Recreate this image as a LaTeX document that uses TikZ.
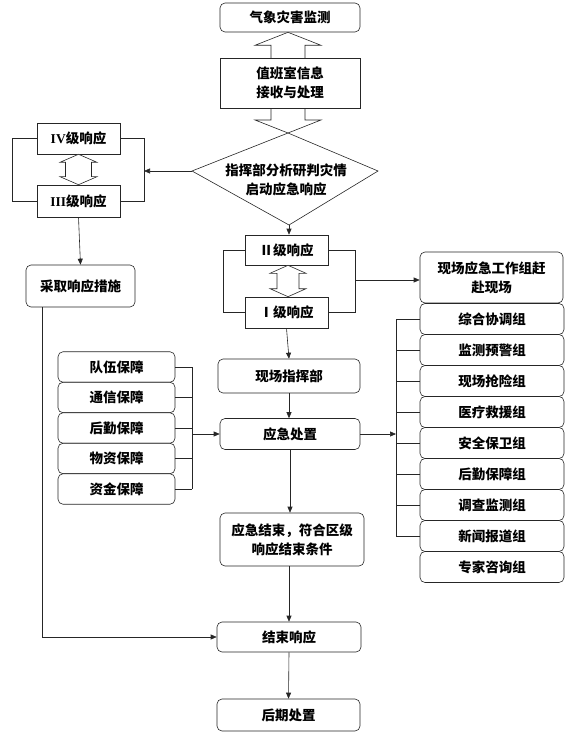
\documentclass[tikz,border=0pt]{standalone}
\usepackage{fontspec}
\setmainfont{Noto Sans CJK SC}
\newfontfamily\romfont{Liberation Serif}
\usepackage{tikz}
\usetikzlibrary{arrows.meta, positioning, calc}

\newcommand{\dblarr}[5]{%
  \draw[fill=white] (#1) -- ++(#3,#5) -- ++({#4-#3},0) -- ($(#2)+(#4,-#5)$) -- ++({#3-#4},0) -- (#2)
    -- ++(-#3,-#5) -- ++({#3-#4},0) -- ($(#1)+(-#4,#5)$) -- ++({#4-#3},0) -- cycle;}

\begin{document}
\begin{tikzpicture}[x=1pt, y=-1pt, line width=0.6pt, color=black!85,
  every node/.style={font=\fontsize{13.5}{19}\selectfont\bfseries, align=center, inner sep=1pt, text=black},
  box/.style={draw, fill=white, minimum width=#1, minimum height=31pt},
  box/.default=140pt,
  rbox/.style={box=#1, rounded corners=5pt},
  rbox/.default=140pt,
  arr/.style={-{Triangle[length=6pt, width=5pt]}}]
  \useasboundingbox (0,0) rectangle (578,743);

  \node[rbox, minimum height=29pt] (jc) at (290,17.5) {气象灾害监测};
  \coordinate (zhN) at (288,133);
  \coordinate (zhW) at (192,171);
  \coordinate (zhE) at (378,171);
  \coordinate (zhS) at (289,225);
  \dblarr{jc.south -| zhN}{zhN}{33}{17}{13}
  \node[box, minimum height=50pt] (zb) at (290,83) {值班室信息\\接收与处理};
  \draw (zhN) -- (zhE) -- (zhS) -- (zhW) -- cycle;
  \node (zh) at (286,180) {指挥部分析研判灾情\\启动应急响应};

  \node[box=83pt] (IV) at (78.5,138.5) {{\romfont IV}级响应};
  \node[box=83pt, minimum height=32pt] (III) at (78.5,201) {{\romfont III}级响应};
  \dblarr{IV.south}{III.north}{18.5}{13}{8}
  \draw (IV.west) -- ++(-24,0) |- (III.west);
  \draw (IV.east) -- ++(24,0) |- (III.east);
  \draw[arr] (zhW) -- (zhW -| 144,0);
  \node[rbox=109pt, minimum height=42pt] (cq) at (80.5,286) {采取响应措施};
  \draw[arr] (III.south) -- (cq.north);

  \node[box=83pt, minimum height=30pt] (II) at (286.5,250) {Ⅱ级响应};
  \node[box=83pt] (I) at (286.5,312.5) {Ⅰ级响应};
  \draw[arr] (zhS) -- (zhS |- II.north);
  \dblarr{II.south -| 288,0}{I.north -| 288,0}{18}{11}{8}
  \draw (II.west) -- ++(-21,0) |- (I.west);
  \draw (II.east) -- ++(27,0) coordinate (br) |- (I.east);
  \node[rbox=143pt, minimum height=51pt] (xc) at (491.5,277.5) {现场应急工作组赶\\赴现场};
  \draw[arr] (br |- 0,280) -- (xc.west |- 0,280);

  \node[rbox=142pt, minimum height=34pt] (zhb) at (289,376) {现场指挥部};
  \node[rbox] (yjcz) at (290,434) {应急处置};
  \draw[arr] (I.south) -- (zhb.north);
  \draw[arr] (zhb.south) -- (zhb.south |- yjcz.north);

  \foreach \t [count=\i] in {队伍保障, 通信保障, 后勤保障, 物资保障, 资金保障}
    \node[rbox=117pt, minimum height=30.5pt] (g\i) at (116.5,{336.5+30.5*\i}) {\t};
  \coordinate (gx) at (192,0);
  \foreach \i in {1,...,5}
    \draw (g\i.east) -- (g\i.east -| gx);
  \draw (g1.east -| gx) -- (g5.east -| gx);
  \draw[arr] (gx |- yjcz.west) -- (yjcz.west);

  \foreach \t [count=\i] in {综合协调组, 监测预警组, 现场抢险组, 医疗救援组, 安全保卫组, 后勤保障组, 调查监测组, 新闻报道组, 专家咨询组}
    \node[rbox=144pt] (r\i) at (492,{288+31*\i}) {\t};
  \coordinate (rx) at (396,0);
  \foreach \i in {1,...,8}
    \draw (r\i.west) -- (r\i.west -| rx);
  \draw (r1.west -| rx) -- (r8.west -| rx);
  \draw[arr] (yjcz.east) -- (yjcz.east -| rx);

  \node[rbox=144pt, minimum height=53pt] (yjjs) at (292,539.5) {应急结束，符合区级\\响应结束条件};
  \node[rbox=144pt, minimum height=30pt] (jsxy) at (289,637) {结束响应};
  \node[rbox=143pt, minimum height=32pt] (hqcz) at (288.5,715) {后期处置};
  \draw[arr] (yjcz.south) -- (yjcz.south |- yjjs.north);
  \draw[arr] (yjjs.south -| jsxy.north) -- (jsxy.north);
  \draw[arr] (jsxy.south) -- (hqcz.north);
  \draw[arr] ($(cq.south west)+(17,0)$) |- (jsxy.west);
\end{tikzpicture}
\end{document}
